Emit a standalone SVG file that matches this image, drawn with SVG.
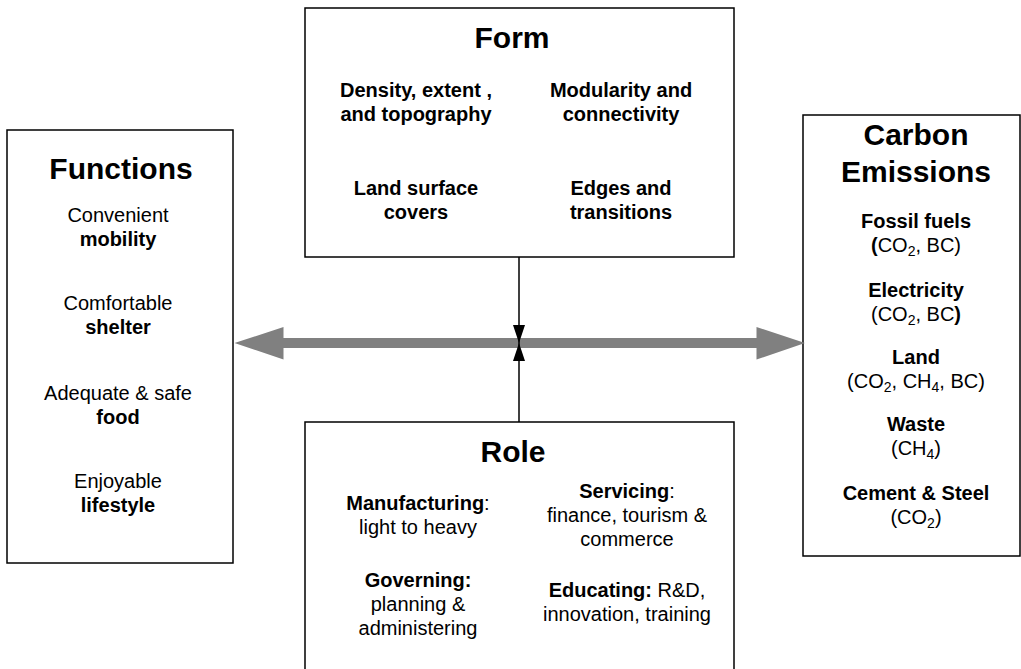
<svg xmlns="http://www.w3.org/2000/svg" width="1021" height="669" viewBox="0 0 1021 669">
<style>
text{font-family:"Liberation Sans",Arial,sans-serif;fill:#000;text-anchor:middle}
.t{font-size:30px;font-weight:bold}
.b{font-size:20px;font-weight:bold}
.r{font-size:20px}
.s{font-size:14px}
.box{fill:#fff;stroke:#000;stroke-width:1.5}
</style>
<defs>
<marker id="ah" markerWidth="20" markerHeight="20" refX="18" refY="10" orient="auto" markerUnits="userSpaceOnUse">
<path d="M0,4 L18,10 L0,16 Z" fill="#000"/>
</marker>
</defs>
<g id="functions">
<rect class="box" x="7" y="130" width="226" height="433"/>
<text class="t" x="121" y="179">Functions</text>
<text class="r" x="118" y="222">Convenient</text>
<text class="b" x="118" y="246">mobility</text>
<text class="r" x="118" y="310">Comfortable</text>
<text class="b" x="118" y="334">shelter</text>
<text class="r" x="118" y="400">Adequate &amp; safe</text>
<text class="b" x="118" y="424">food</text>
<text class="r" x="118" y="488">Enjoyable</text>
<text class="b" x="118" y="512">lifestyle</text>
</g>
<g id="form">
<rect class="box" x="305" y="8" width="429" height="249"/>
<text class="t" x="512" y="48">Form</text>
<text class="b" x="416" y="97">Density, extent ,</text>
<text class="b" x="416" y="121">and topography</text>
<text class="b" x="621" y="97">Modularity and</text>
<text class="b" x="621" y="121">connectivity</text>
<text class="b" x="416" y="195">Land surface</text>
<text class="b" x="416" y="219">covers</text>
<text class="b" x="621" y="195">Edges and</text>
<text class="b" x="621" y="219">transitions</text>
</g>
<g id="carbon">
<rect class="box" x="803" y="115" width="217" height="441"/>
<text class="t" x="916" y="145">Carbon</text>
<text class="t" x="916" y="182">Emissions</text>
<text class="b" x="916" y="228">Fossil fuels</text>
<text class="r" x="916" y="252"><tspan font-weight="bold">(</tspan>CO<tspan class="s" dy="4">2</tspan><tspan dy="-4">, BC)</tspan></text>
<text class="b" x="916" y="297">Electricity</text>
<text class="r" x="916" y="321">(CO<tspan class="s" dy="4">2</tspan><tspan dy="-4">, BC</tspan><tspan font-weight="bold">)</tspan></text>
<text class="b" x="916" y="364">Land</text>
<text class="r" x="916" y="388">(CO<tspan class="s" dy="4">2</tspan><tspan dy="-4">, CH</tspan><tspan class="s" dy="4">4</tspan><tspan dy="-4">, BC)</tspan></text>
<text class="b" x="916" y="431">Waste</text>
<text class="r" x="916" y="455">(CH<tspan class="s" dy="4">4</tspan><tspan dy="-4">)</tspan></text>
<text class="b" x="916" y="500">Cement &amp; Steel</text>
<text class="r" x="916" y="524">(CO<tspan class="s" dy="4">2</tspan><tspan dy="-4">)</tspan></text>
</g>
<g id="role">
<rect class="box" x="305" y="422" width="429" height="260"/>
<text class="t" x="513" y="462">Role</text>
<text class="r" x="418" y="510"><tspan font-weight="bold">Manufacturing</tspan>:</text>
<text class="r" x="418" y="534">light to heavy</text>
<text class="r" x="627" y="498"><tspan font-weight="bold">Servicing</tspan>:</text>
<text class="r" x="627" y="522">finance, tourism &amp;</text>
<text class="r" x="627" y="546">commerce</text>
<text class="b" x="418" y="587">Governing:</text>
<text class="r" x="418" y="611">planning &amp;</text>
<text class="r" x="418" y="635">administering</text>
<text class="r" x="627" y="597"><tspan font-weight="bold">Educating:</tspan> R&amp;D,</text>
<text class="r" x="627" y="621">innovation, training</text>
</g>
<g id="connectors">
<path d="M283.5,338 L756.5,338 L756.5,327 L805,343 L756.5,359.5 L756.5,348 L283.5,348 L283.5,359.5 L234.5,343 L283.5,327 Z" fill="#808080"/>
<line x1="519" y1="257" x2="519" y2="343" stroke="#000" stroke-width="1.5" marker-end="url(#ah)"/>
<line x1="519" y1="422" x2="519" y2="343" stroke="#000" stroke-width="1.5" marker-end="url(#ah)"/>
</g>
</svg>
